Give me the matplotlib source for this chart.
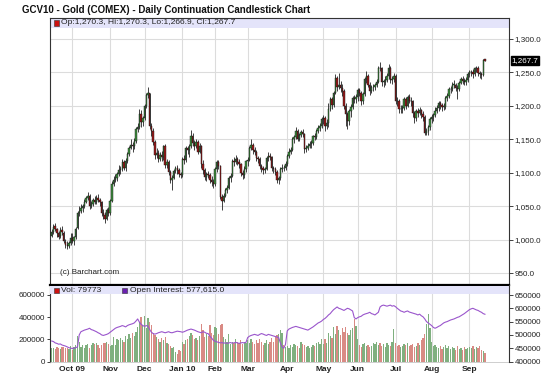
import numpy as np
import pandas as pd
import matplotlib
matplotlib.use("Agg")
import matplotlib.pyplot as plt
from matplotlib.patches import Rectangle
import matplotlib.transforms as mtransforms

plt.rcParams['font.family'] = ['Liberation Sans', 'DejaVu Sans']

# ---------------- data ----------------
holidays = ["2009-11-26", "2009-12-25", "2010-01-01", "2010-01-18", "2010-02-15",
            "2010-04-02", "2010-05-31", "2010-07-05", "2010-09-06"]
dates = pd.bdate_range("2009-09-15", "2010-09-15")
dates = dates[~dates.isin(pd.to_datetime(holidays))]

month_labels = ["Oct 09", "Nov", "Dec", "Jan 10", "Feb", "Mar", "Apr", "May",
                "Jun", "Jul", "Aug", "Sep"]

opens = [1006,1012,1021,1016,1010,1006,1015,1011,997,993,991,996,
         1003,999,1004,1018,1040,1043,1048,1050,1057,1063,1065,1051,1053,1059,1057,1062,1060,1056,1041,1037,1032,1045,
         1041,1058,1084,1090,1092,1098,1104,1106,1116,1108,1118,1128,1138,1142,1140,1148,1165,1168,1188,1176,
         1182,1200,1216,1219,1170,1163,1146,1127,1130,1121,1127,1124,1140,1112,1116,1102,1090,1093,1103,1107,1104,1098,
         1097,1121,1120,1137,1134,1140,1155,1145,1140,1146,1132,1140,1114,1104,1094,1098,1097,1090,1086,
         1084,1106,1117,1111,1064,1058,1066,1074,1078,1093,1096,1118,1116,1121,1117,1113,1100,1097,1106,
         1118,1120,1137,1142,1134,1132,1122,1121,1110,1108,1104,1106,1122,1126,1124,1107,1106,1101,1089,1092,1106,1108,1107,
         1114,1126,1132,1135,1150,1153,1163,1150,1157,1161,1158,1136,1138,1140,1143,1145,1155,1153,1163,1167,1170,
         1180,1182,1170,1175,1196,1210,1201,1220,1242,1228,1232,1227,1223,1200,1188,1178,1192,1198,1212,1210,
         1214,1224,1220,1208,1218,1240,1245,1232,1222,1228,1229,1231,1236,1257,1256,1236,1236,1239,1245,1257,1239,1240,
         1245,1208,1207,1195,1196,1197,1210,1200,1214,1208,1207,1190,1182,1192,1190,1194,1188,1183,1160,1162,1168,
         1181,1184,1186,1193,1197,1204,1201,1199,1199,1212,1215,1225,1226,1232,1232,1227,1226,1235,1240,1238,1236,1239,
         1248,1250,1250,1247,1256,1257,1249,1247,1246,1270.3]
highs = [1016,1024,1025,1018,1013,1019,1021,1013,1001,998,999,1010,
         1011,1006,1019,1043,1050,1054,1053,1061,1066,1072,1068,1058,1063,1066,1067,1069,1063,1058,1046,1042,1048,1049,
         1061,1088,1095,1098,1101,1112,1110,1121,1119,1122,1131,1141,1150,1146,1152,1168,1174,1195,1194,1185,
         1203,1219,1229,1220,1175,1167,1149,1137,1134,1131,1133,1142,1143,1121,1119,1105,1097,1106,1110,1112,1107,1101,
         1124,1127,1140,1141,1143,1164,1160,1149,1150,1149,1144,1142,1119,1107,1102,1103,1100,1095,1091,
         1109,1120,1119,1112,1068,1070,1078,1082,1096,1100,1121,1124,1127,1124,1121,1115,1104,1110,1120,
         1124,1140,1150,1145,1139,1134,1126,1124,1114,1111,1109,1126,1132,1130,1126,1111,1109,1104,1096,1109,1113,1112,1118,
         1129,1137,1139,1153,1157,1168,1166,1160,1164,1165,1160,1142,1145,1148,1149,1157,1160,1166,1171,1174,1183,
         1187,1185,1180,1205,1213,1213,1223,1248,1245,1249,1238,1233,1226,1205,1191,1196,1203,1215,1217,1218,
         1227,1227,1222,1221,1243,1252,1248,1236,1232,1233,1235,1240,1260,1266,1258,1241,1244,1249,1262,1260,1245,1249,
         1248,1214,1210,1202,1201,1213,1213,1216,1218,1213,1209,1193,1195,1197,1198,1196,1192,1186,1167,1172,1184,
         1188,1190,1198,1201,1207,1208,1205,1204,1215,1219,1228,1230,1236,1239,1235,1232,1238,1243,1244,1242,1243,1251,
         1253,1254,1255,1258,1259,1260,1252,1251,1270,1270.3]
lows = [1004,1009,1013,1005,1001,1003,1008,996,988,986,988,993,
        996,993,1002,1016,1036,1040,1042,1047,1055,1060,1046,1047,1050,1054,1054,1056,1050,1036,1031,1025,1030,1036,
        1038,1056,1080,1086,1088,1095,1098,1103,1104,1103,1115,1125,1136,1131,1136,1145,1161,1165,1168,1170,
        1179,1197,1212,1165,1155,1142,1121,1122,1116,1118,1118,1120,1107,1108,1097,1085,1074,1091,1100,1099,1094,1093,
        1094,1114,1116,1128,1124,1138,1140,1135,1137,1128,1130,1108,1098,1089,1088,1093,1085,1081,1077,
        1081,1102,1106,1061,1045,1056,1064,1070,1076,1087,1094,1110,1113,1112,1108,1096,1091,1093,1102,
        1111,1118,1134,1129,1127,1118,1115,1106,1101,1099,1100,1104,1118,1120,1103,1100,1097,1085,1083,1089,1102,1103,1104,
        1110,1123,1129,1133,1145,1150,1147,1148,1153,1154,1130,1132,1135,1138,1138,1142,1149,1150,1160,1163,1167,
        1173,1162,1165,1168,1193,1196,1198,1218,1222,1225,1221,1215,1195,1170,1165,1172,1183,1196,1204,1205,
        1208,1215,1201,1203,1215,1234,1228,1217,1219,1222,1224,1228,1234,1252,1230,1228,1232,1236,1240,1235,1233,1236,
        1203,1200,1190,1190,1190,1194,1196,1198,1204,1200,1184,1175,1177,1184,1186,1182,1177,1156,1156,1157,1164,
        1175,1178,1183,1190,1193,1196,1193,1194,1195,1208,1212,1220,1222,1227,1222,1210,1222,1233,1233,1231,1232,1236,
        1243,1245,1242,1244,1250,1244,1242,1240,1244,1266.9]
closes = [1012,1020,1017,1010,1005,1015,1012,998,993,991,996,1003,
          999,1004,1017,1040,1043,1048,1050,1057,1063,1065,1051,1053,1059,1057,1062,1060,1056,1041,1037,1032,1045,1041,
          1058,1084,1090,1092,1098,1104,1106,1116,1108,1118,1128,1138,1142,1140,1148,1165,1168,1188,1176,1182,
          1200,1216,1219,1170,1163,1146,1127,1130,1121,1127,1124,1140,1112,1116,1102,1090,1093,1103,1107,1104,1098,1097,
          1121,1120,1137,1134,1140,1155,1145,1140,1146,1132,1140,1114,1104,1094,1098,1097,1090,1086,1084,
          1106,1117,1111,1064,1058,1066,1074,1078,1093,1096,1118,1116,1121,1117,1113,1100,1097,1106,1118,
          1120,1137,1142,1134,1132,1122,1121,1110,1108,1104,1106,1122,1126,1124,1107,1106,1101,1089,1092,1106,1108,1107,1114,
          1126,1132,1135,1150,1153,1163,1150,1157,1161,1158,1136,1138,1140,1143,1145,1155,1153,1163,1167,1170,1180,
          1182,1170,1175,1196,1210,1201,1220,1242,1228,1232,1227,1223,1200,1188,1178,1192,1198,1212,1210,1214,
          1224,1220,1208,1218,1240,1245,1232,1222,1228,1229,1231,1236,1257,1256,1236,1236,1239,1245,1257,1239,1240,1245,
          1208,1207,1195,1196,1197,1210,1200,1214,1208,1207,1190,1182,1192,1190,1194,1188,1183,1160,1162,1168,1181,
          1184,1186,1193,1197,1204,1201,1199,1199,1212,1215,1225,1226,1232,1232,1227,1226,1235,1240,1238,1236,1239,1248,
          1250,1250,1247,1256,1257,1249,1247,1246,1268,1267.7]

volume_k = [125,118,110,130,120,115,128,135,122,118,
            110,140,105,130,150,230,175,130,145,120,150,
            160,125,150,170,160,165,150,120,145,165,168,175,160,140,150,
            220,150,200,190,210,195,180,230,200,250,210,260,230,270,
            310,360,400,330,
            410,300,395,360,330,260,240,220,
            200,180,210,190,220,170,160,140,120,130,90,70,100,95,
            180,160,190,200,230,260,240,200,210,190,230,340,280,220,250,230,330,260,240,
            310,300,250,330,340,220,200,180,250,160,180,170,200,180,170,190,160,180,170,
            190,170,200,180,160,190,170,200,180,150,170,190,160,180,210,180,220,240,250,280,260,150,130,
            140,120,150,130,160,150,140,120,180,160,150,130,140,120,130,150,140,170,180,160,200,
            160,200,170,260,230,210,310,250,320,280,240,300,270,310,260,240,280,300,380,320,
            200,150,130,160,170,140,150,130,140,170,160,180,150,170,140,160,130,170,150,140,180,290,
            170,140,150,130,140,160,150,170,140,150,160,130,140,170,150,190,210,250,340,430,300,
            180,140,150,130,120,140,110,130,150,120,140,110,130,120,100,140,110,120,100,130,110,120,
            130,120,140,110,130,120,140,100,95,79.773]

open_interest_k = [477,475,470,468,465,466,462,460,458,455,
                   452,450,449,450,452,455,
                   500,
                   512,515,518,520,522,525,520,518,515,512,
                   508,505,500,498,500,502,505,510,515,
                   520,525,528,530,532,535,533,530,535,538,540,542,545,552,560,
                   548,540,535,532,535,533,
                   520,510,505,503,505,
                   508,510,512,510,508,510,512,509,508,510,512,514,513,512,510,512,515,518,520,522,520,
                   518,515,512,510,508,512,510,506,505,
                   495,488,480,476,474,
                   472,470,471,469,470,468,470,471,469,470,472,470,468,470,471,470,472,
                   490,495,498,500,502,500,498,502,505,503,500,498,502,500,498,496,494,492,490,
                   470,455,450,465,
                   515,522,525,528,530,532,530,528,526,524,522,520,518,522,526,530,
                   535,540,545,548,552,558,562,568,575,580,588,595,600,605,600,
                   598,595,592,596,600,598,594,590,
                   565,
                   560,565,568,570,575,578,580,582,585,580,578,575,580,585,
                   605,610,612,610,608,610,612,608,610,606,600,595,
                   590,588,585,588,590,586,584,582,580,578,575,578,572,568,
                   560,550,545,540,535,528,
                   525,528,532,535,540,545,548,
                   550,553,556,558,560,563,566,568,572,576,580,585,590,
                   595,598,600,597,594,592,588,585,580,577.615]

price_ticks = [950, 1000, 1050, 1100, 1150, 1200, 1250, 1300]
vol_ticks = [0, 200000, 400000, 600000]
oi_ticks = [400000, 450000, 500000, 550000, 600000, 650000]

# ---------------- figure ----------------
o = np.array(opens, float); h = np.array(highs, float)
l = np.array(lows, float); c = np.array(closes, float)
n = len(c)
x = np.arange(n)
vol = np.array(volume_k) * 1000
oi = np.array(open_interest_k) * 1000

months = pd.Series(dates.to_period("M"))
month_idx = [int(i) for i in np.where(months.values[1:] != months.values[:-1])[0] + 1]

fig = plt.figure(figsize=(5.5, 3.82), dpi=100)
W, H = 550, 382
L, R = 50, 509
ax1 = fig.add_axes([L / W, 1 - 285 / H, (R - L) / W, 267 / H])
ax2 = fig.add_axes([L / W, 1 - 361.5 / H, (R - L) / W, 76.5 / H])

grid_c = '#dcdcdc'
up_c, dn_c = '#3f8f3f', '#9e1a1a'
is_up = c >= o

# main panel
for xi in month_idx:
    ax1.axvline(xi, color=grid_c, lw=0.8, zorder=0)
    ax2.axvline(xi, color=grid_c, lw=0.8, zorder=0)
for yv in price_ticks:
    ax1.axhline(yv, color=grid_c, lw=0.8, zorder=0)

ax1.vlines(x, l, h, color='#222222', lw=0.6, zorder=2)
body_lo = np.minimum(o, c)
body_h = np.maximum(np.abs(c - o), 0.9)
ax1.bar(x, body_h, bottom=body_lo, width=0.8,
        color=np.where(is_up, up_c, dn_c), edgecolor='#111111', lw=0.3, zorder=3)

ax1.set_xlim(-1, 266)
ax1.set_ylim(932.8, 1331.3)
ax1.yaxis.tick_right()
ax1.set_yticks(price_ticks)
ax1.set_yticklabels([f"{v:,.1f}" for v in price_ticks])
ax1.set_xticks([])
ax1.tick_params(axis='y', labelsize=5.8, length=3, width=0.6, pad=1, colors='#222222')
for s in ['left', 'top', 'right', 'bottom']:
    ax1.spines[s].set_color('#333333')
    ax1.spines[s].set_linewidth(0.8)
ax1.spines['bottom'].set_visible(False)

band = 10 / 267
ax1.add_patch(Rectangle((0, 1 - band), 1, band, transform=ax1.transAxes,
                        facecolor='#e4e4fa', edgecolor='none', zorder=1))
ax1.add_patch(Rectangle((0.008, 1 - band + 0.008), 0.011, band - 0.016, transform=ax1.transAxes,
                        facecolor='#cc1111', edgecolor='#333333', lw=0.4, zorder=5))
ax1.text(0.025, 1 - band / 2, f"Op:{opens[-1]:,.1f}, Hi:{highs[-1]:,.1f}, Lo:{lows[-1]:,.1f}, Cl:{closes[-1]:,.1f}",
         transform=ax1.transAxes, fontsize=6.1, va='center', ha='left', zorder=6, color='#222222')
ax1.text(0.022, 0.045, "(c) Barchart.com", transform=ax1.transAxes, fontsize=5.8,
         ha='left', va='center', color='#222222')

trans = mtransforms.blended_transform_factory(ax1.transAxes, ax1.transData)
ax1.text(1.006, closes[-1], f"{closes[-1]:,.1f}", transform=trans, fontsize=5.8, color='white',
         va='center', ha='left', bbox=dict(boxstyle='square,pad=0.12', fc='black', ec='black'), zorder=7)

fig.text(22 / W, 1 - 10 / H, "GCV10 - Gold (COMEX) - Daily Continuation Candlestick Chart",
         fontsize=7, fontweight='bold', ha='left', va='center', color='#111111')

# lower panel
vol_up, vol_dn = '#7fb07f', '#d98a84'
ax2.bar(x, vol, width=0.75, color=np.where(is_up, vol_up, vol_dn), edgecolor='none', zorder=2)
ax2.set_xlim(-1, 266)
ax2.set_ylim(0, 690000)
ax2.set_yticks(vol_ticks)
ax2.set_yticklabels([f"{v:d}" for v in vol_ticks])
ax2.tick_params(axis='y', labelsize=5.8, length=2.5, width=0.6, pad=1, colors='#222222')
ax2.set_xticks(month_idx)
ax2.set_xticklabels(month_labels, fontsize=6, fontweight='bold')
ax2.tick_params(axis='x', length=0, pad=3, colors='#222222')
ax2.spines['top'].set_linewidth(1.6)
ax2.spines['top'].set_color('black')
ax2.spines['left'].set_color('#333333')
ax2.spines['left'].set_linewidth(0.8)
ax2.spines['right'].set_visible(False)
ax2.spines['bottom'].set_color('#bbbbbb')
ax2.spines['bottom'].set_linewidth(0.5)

ax3 = ax2.twinx()
ax3.plot(x, oi, color='#9a55cc', lw=0.8, zorder=4)
ax3.set_ylim(400000, 687600)
ax3.set_yticks(oi_ticks)
ax3.set_yticklabels([f"{v:d}" for v in oi_ticks])
ax3.tick_params(axis='y', labelsize=5.8, length=3, width=0.6, pad=1, colors='#222222')
ax3.spines['right'].set_color('#333333')
ax3.spines['right'].set_linewidth(0.8)
for s in ['top', 'left', 'bottom']:
    ax3.spines[s].set_visible(False)

band2 = 8.5 / 76.5
ax3.add_patch(Rectangle((0, 1 - band2 - 0.01), 1, band2, transform=ax3.transAxes,
                        facecolor='#e4e4fa', edgecolor='none', zorder=1))
ax3.add_patch(Rectangle((0.008, 1 - band2 + 0.012), 0.011, band2 - 0.05, transform=ax3.transAxes,
                        facecolor='#cc1111', edgecolor='#333333', lw=0.4, zorder=5))
ax3.text(0.025, 1 - band2 / 2 - 0.01, f"Vol: {int(round(volume_k[-1] * 1000))}", transform=ax3.transAxes,
         fontsize=6.1, va='center', ha='left', color='#222222', zorder=6)
ax3.add_patch(Rectangle((0.156, 1 - band2 + 0.012), 0.011, band2 - 0.05, transform=ax3.transAxes,
                        facecolor='#6a1fb0', edgecolor='#333333', lw=0.4, zorder=5))
ax3.text(0.174, 1 - band2 / 2 - 0.01, f"Open Interest: {open_interest_k[-1] * 1000:,.1f}",
         transform=ax3.transAxes, fontsize=6.1, va='center', ha='left', color='#222222', zorder=6)

fig.savefig("out.png", dpi=100)
